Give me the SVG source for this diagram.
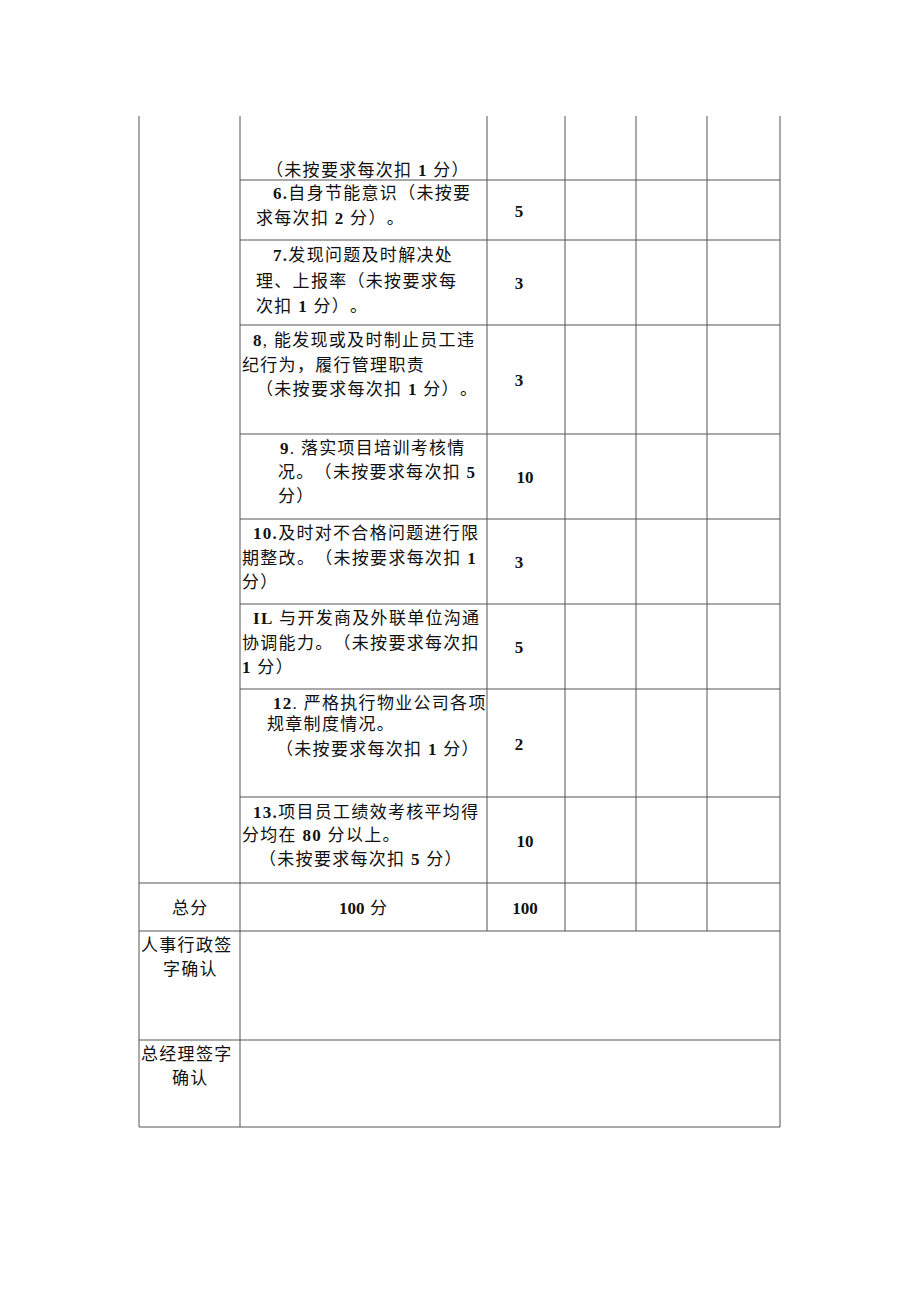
<svg xmlns="http://www.w3.org/2000/svg" width="920" height="1301" viewBox="0 0 920 1301">
<style>
.g{stroke:#555;stroke-width:1;fill:none}
.t{font-family:"Liberation Serif","Noto Sans CJK SC",serif;font-size:17px;fill:#111;letter-spacing:1.3px;text-spacing-trim:space-all}
.b{font-weight:bold}
.c{text-anchor:middle}
.n{letter-spacing:0}
</style>
<rect width="920" height="1301" fill="#fff"/>
<g id="grid" class="g">
<line x1="139" y1="116" x2="139" y2="1127"/>
<line x1="240" y1="116" x2="240" y2="1127"/>
<line x1="487" y1="116" x2="487" y2="931"/>
<line x1="565" y1="116" x2="565" y2="931"/>
<line x1="636" y1="116" x2="636" y2="931"/>
<line x1="707" y1="116" x2="707" y2="931"/>
<line x1="780" y1="116" x2="780" y2="1127"/>
<line x1="240" y1="180" x2="780" y2="180"/>
<line x1="240" y1="240" x2="780" y2="240"/>
<line x1="240" y1="325" x2="780" y2="325"/>
<line x1="240" y1="434" x2="780" y2="434"/>
<line x1="240" y1="519" x2="780" y2="519"/>
<line x1="240" y1="604" x2="780" y2="604"/>
<line x1="240" y1="689" x2="780" y2="689"/>
<line x1="240" y1="797" x2="780" y2="797"/>
<line x1="139" y1="883" x2="780" y2="883"/>
<line x1="139" y1="931" x2="780" y2="931"/>
<line x1="139" y1="1040" x2="780" y2="1040"/>
<line x1="139" y1="1127" x2="780" y2="1127"/>
</g>
<g id="row5" class="t">
<text x="266" y="176">（未按要求每次扣 <tspan class="b">1</tspan> 分）</text>
</g>
<g id="row6" class="t">
<text x="273" y="199"><tspan class="b">6.</tspan>自身节能意识（未按要</text>
<text x="256" y="224">求每次扣 <tspan class="b">2</tspan> 分）。</text>
<text x="519" y="217" class="c b n">5</text>
</g>
<g id="row7" class="t">
<text x="273" y="261"><tspan class="b">7.</tspan>发现问题及时解决处</text>
<text x="256" y="287">理、上报率（未按要求每</text>
<text x="256" y="312">次扣 <tspan class="b">1</tspan> 分）。</text>
<text x="519" y="289" class="c b n">3</text>
</g>
<g id="row8" class="t">
<text x="253" y="346"><tspan class="b">8</tspan>, 能发现或及时制止员工违</text>
<text x="242" y="371">纪行为，履行管理职责</text>
<text x="256" y="395">（未按要求每次扣 <tspan class="b">1</tspan> 分）。</text>
<text x="519" y="386" class="c b n">3</text>
</g>
<g id="row9" class="t">
<text x="280" y="454"><tspan class="b">9</tspan>. 落实项目培训考核情</text>
<text x="278" y="478">况。（未按要求每次扣 <tspan class="b">5</tspan></text>
<text x="278" y="502">分）</text>
<text x="525" y="483" class="c b n">10</text>
</g>
<g id="row10" class="t">
<text x="253" y="539"><tspan class="b">10.</tspan>及时对不合格问题进行限</text>
<text x="242" y="564">期整改。（未按要求每次扣 <tspan class="b">1</tspan></text>
<text x="242" y="588">分）</text>
<text x="519" y="568" class="c b n">3</text>
</g>
<g id="row11" class="t">
<text x="253" y="624"><tspan class="b">IL</tspan> 与开发商及外联单位沟通</text>
<text x="242" y="649">协调能力。（未按要求每次扣</text>
<text x="242" y="673"><tspan class="b">1</tspan> 分）</text>
<text x="519" y="653" class="c b n">5</text>
</g>
<g id="row12" class="t">
<text x="273" y="709"><tspan class="b">12</tspan>. 严格执行物业公司各项</text>
<text x="267" y="730">规章制度情况。</text>
<text x="276" y="755">（未按要求每次扣 <tspan class="b">1</tspan> 分）</text>
<text x="519" y="750" class="c b n">2</text>
</g>
<g id="row13" class="t">
<text x="253" y="818"><tspan class="b">13.</tspan>项目员工绩效考核平均得</text>
<text x="242" y="841">分均在 <tspan class="b">80</tspan> 分以上。</text>
<text x="259" y="865">（未按要求每次扣 <tspan class="b">5</tspan> 分）</text>
<text x="525" y="847" class="c b n">10</text>
</g>
<g id="total" class="t">
<text x="172" y="914">总分</text>
<text x="339" y="914"><tspan class="b n">100</tspan> 分</text>
<text x="525" y="914" class="c b n">100</text>
</g>
<g id="hr" class="t">
<text x="141" y="951">人事行政签</text>
<text x="163" y="975">字确认</text>
</g>
<g id="gm" class="t">
<text x="141" y="1060">总经理签字</text>
<text x="172" y="1084">确认</text>
</g>
</svg>
